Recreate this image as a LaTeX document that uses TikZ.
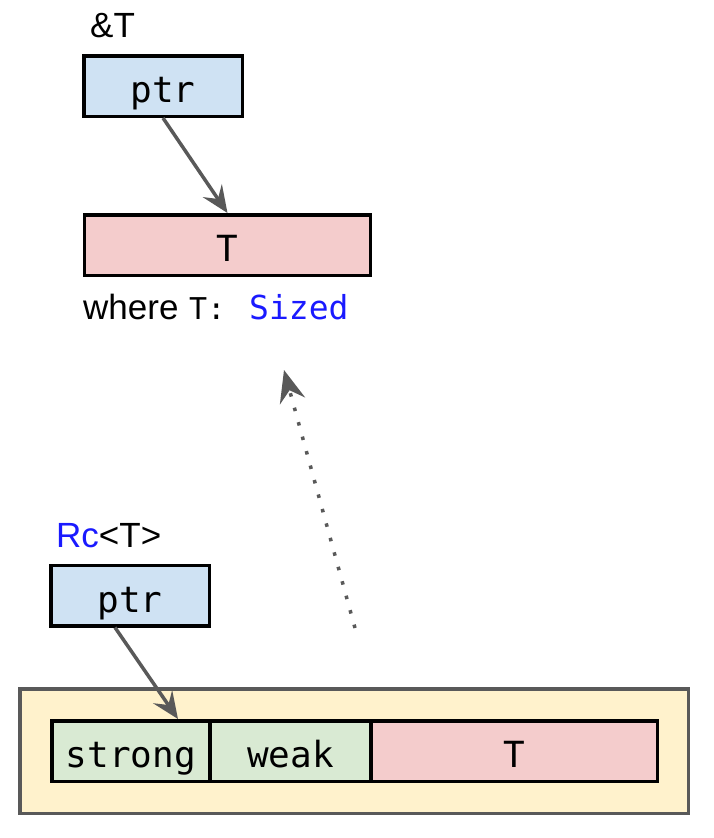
\documentclass[tikz,border=0pt]{standalone}
\usepackage{fontspec}
\setmainfont{Liberation Sans}
\newfontfamily\monof{DejaVu Sans Mono}
\usetikzlibrary{arrows.meta}
\definecolor{ptrblue}{HTML}{CFE2F3}
\definecolor{tred}{HTML}{F4CCCC}
\definecolor{cntgreen}{HTML}{D9EAD3}
\definecolor{heapyellow}{HTML}{FFF2CC}
\definecolor{arrowgray}{HTML}{595959}
\definecolor{kwblue}{HTML}{1A1AFF}
\tikzset{
  cell/.style={draw=black, line width=3.5pt, inner sep=0pt, minimum height=60.5pt,
    text height=33pt, text depth=0pt,
    font=\monof\fontsize{36}{36}\selectfont},
  ptrcell/.style={cell, fill=ptrblue, minimum width=158.5pt},
  tcell/.style={cell, fill=tred},
  cntcell/.style={cell, fill=cntgreen},
  heap/.style={draw=arrowgray, fill=heapyellow, line width=3.5pt, inner sep=0pt},
  lbl/.style={inner sep=0pt, anchor=base west, font=\fontsize{35}{35}\selectfont},
  ptrarrow/.style={draw=arrowgray, line width=3.5pt,
    -{Stealth[length=27pt, width=23pt, inset=10pt]}},
  movearrow/.style={draw=arrowgray, line width=3.5pt, dash pattern=on 3.5pt off 11.5pt,
    -{Stealth[length=32pt, width=26pt, inset=11pt]}}
}
\begin{document}
\begin{tikzpicture}[x=1pt,y=-1pt]
\useasboundingbox (0,0) rectangle (714,838);
% &T
\node[lbl] (reflbl) at (90,37) {\&T};
\node[ptrcell] (ptr1) at (163,86) {ptr};
\node[tcell, minimum width=286pt] (t1) at (227.5,245) {T};
\node[lbl] (where) at (83,319) {\makebox[106pt][l]{where}\makebox[60pt][l]{\monof\fontsize{30}{30}\selectfont T:}{\monof\fontsize{33}{33}\selectfont\color{kwblue}Sized}};
\draw[ptrarrow] (ptr1.south) -- (t1.north);
% Rc<T>
\node[lbl] (rclbl) at (56,547) {\textcolor{kwblue}{Rc}<T>};
\node[ptrcell] (ptr2) at (130,595.5) {ptr};
\node[heap, minimum width=668.5pt, minimum height=124.5pt] (heapbox) at (354,751) {};
\node[cntcell, minimum width=158.5pt] (strong) at (131,751) {strong};
\node[cntcell, minimum width=161pt] (weak) at (290.5,751) {weak};
\node[tcell, minimum width=286.5pt] (t2) at (514.25,751) {T};
\draw[ptrarrow] ([xshift=-15pt]ptr2.south) -- ([xshift=47pt]strong.north);
% dotted move arrow
\coordinate (mvstart) at (355,628);
\coordinate (mvend) at (284,370);
\draw[movearrow] (mvstart) -- (mvend);
\end{tikzpicture}
\end{document}
